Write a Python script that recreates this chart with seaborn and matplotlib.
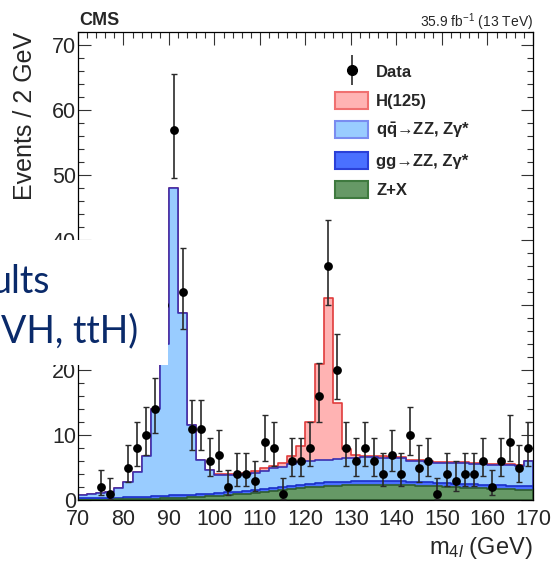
import numpy as np
import pandas as pd
import matplotlib
matplotlib.use("Agg")
import matplotlib.pyplot as plt
import seaborn as sns
from matplotlib.patches import Patch, Rectangle
from matplotlib.lines import Line2D
from matplotlib.ticker import MultipleLocator
from matplotlib.font_manager import FontProperties

# ---------------- data (2 GeV bins, 70-170 GeV) ----------------
bin_edges = list(range(70, 172, 2))
bin_centers = list(range(71, 170, 2))

data_counts = [0, 0, 2, 1, 0, 5, 8, 10, 14, 30,
               57, 32, 11, 11, 6, 7, 2, 4, 4, 3,
               9, 8, 1, 6, 6, 8, 16, 36, 20, 8,
               6, 8, 6, 4, 7, 4, 10, 5, 6, 1,
               4, 3, 4, 4, 6, 2, 6, 9, 5, 8]

zx = [0.05, 0.05, 0.05, 0.06, 0.08, 0.10, 0.12, 0.15, 0.20, 0.25,
      0.30, 0.35, 0.42, 0.50, 0.58, 0.66, 0.75, 0.85, 0.95, 1.05,
      1.20, 1.35, 1.50, 1.65, 1.80, 1.95, 2.05, 2.15, 2.20, 2.25,
      2.30, 2.30, 2.30, 2.30, 2.30, 2.30, 2.25, 2.20, 2.15, 2.10,
      2.00, 1.95, 1.90, 1.85, 1.80, 1.75, 1.70, 1.65, 1.60, 1.60]

gg = [0.30, 0.30, 0.30, 0.30, 0.30, 0.35, 0.35, 0.35, 0.35, 0.35,
      0.40, 0.40, 0.40, 0.40, 0.40, 0.45, 0.45, 0.45, 0.45, 0.45,
      0.50, 0.50, 0.50, 0.50, 0.50, 0.55, 0.55, 0.55, 0.55, 0.55,
      0.55, 0.55, 0.55, 0.55, 0.55, 0.55, 0.55, 0.55, 0.55, 0.55,
      0.55, 0.55, 0.55, 0.55, 0.55, 0.55, 0.55, 0.55, 0.55, 0.55]

qq = [0.45, 0.55, 0.75, 0.84, 1.52, 2.25, 3.83, 6.30, 13.45, 23.40,
      47.30, 27.95, 10.78, 5.30, 3.62, 2.74, 2.60, 2.55, 2.55, 2.70,
      2.80, 3.00, 3.15, 3.35, 3.50, 3.50, 3.50, 3.50, 3.55, 3.60,
      3.65, 3.70, 3.70, 3.65, 3.65, 3.55, 3.25, 3.20, 3.15, 3.10,
      3.15, 3.20, 3.20, 3.20, 3.25, 3.15, 3.15, 3.15, 3.15, 3.80]

higgs = [0.01, 0.01, 0.01, 0.01, 0.01, 0.01, 0.01, 0.01, 0.01, 0.01,
         0.01, 0.01, 0.01, 0.01, 0.05, 0.10, 0.15, 0.20, 0.25, 0.30,
         0.35, 0.45, 0.60, 1.20, 2.50, 6.00, 14.90, 24.90, 8.60, 1.40,
         0.40, 0.25, 0.20, 0.20, 0.15, 0.15, 0.15, 0.15, 0.15, 0.15,
         0.15, 0.15, 0.15, 0.15, 0.15, 0.12, 0.12, 0.12, 0.10, 0.10]

legend_labels = ["Data", "H(125)", r"q$\mathbf{\bar{q}}$→ZZ, Zγ*", "gg→ZZ, Zγ*", "Z+X"]

# ---------------- style ----------------
sns.set_theme(style="ticks")
plt.rcParams["font.family"] = ["Liberation Sans", "DejaVu Sans"]
plt.rcParams["mathtext.fontset"] = "custom"
plt.rcParams["mathtext.rm"] = "Liberation Sans"
plt.rcParams["mathtext.it"] = "Liberation Sans:italic"
plt.rcParams["mathtext.bf"] = "Liberation Sans:bold"

col_h_fill, col_h_edge = "#ffb3b3", "#e03c3c"
col_qq_fill, col_qq_edge = "#99ccff", "#3a2fb0"
col_gg_fill, col_gg_edge = "#4a70ff", "#1a2fc8"
col_zx_fill, col_zx_edge = "#669966", "#2f5f2f"

fig = plt.figure(figsize=(5.51, 5.64), dpi=100)
fig.patch.set_facecolor("white")
ax = fig.add_axes([78 / 551, 64 / 564, 455 / 551, 468 / 564])

# stacked histogram (THStack-like: cumulative layers drawn top to bottom)
zx_a, gg_a, qq_a, h_a = map(np.asarray, (zx, gg, qq, higgs))
layers = [
    (zx_a + gg_a + qq_a + h_a, col_h_fill, col_h_edge),
    (zx_a + gg_a + qq_a, col_qq_fill, col_qq_edge),
    (zx_a + gg_a, col_gg_fill, col_gg_edge),
    (zx_a, col_zx_fill, col_zx_edge),
]
for heights, fc, ec in layers:
    df = pd.DataFrame({"m4l": bin_centers, "w": heights})
    sns.histplot(data=df, x="m4l", weights="w", bins=bin_edges, element="step",
                 fill=True, alpha=1, facecolor=fc, edgecolor=ec, linewidth=1.2,
                 ax=ax)

# data points with Poisson (Gehrels approx.) error bars
dc = np.asarray(data_counts, dtype=float)
xc = np.asarray(bin_centers, dtype=float)
mask = dc > 0
n = dc[mask]
upper = n + np.sqrt(n + 0.75) + 1.0
lower = n * (1 - 1 / (9 * n) - 1 / (3 * np.sqrt(n))) ** 3
ax.errorbar(xc[mask], n, yerr=[n - lower, upper - n], fmt="none",
            ecolor="#2a2a2a", elinewidth=1.2, capsize=2.2, capthick=1.0, zorder=4)
sns.scatterplot(x=xc[mask], y=n, color="black", s=40, edgecolor="black",
                linewidth=0, zorder=5, ax=ax, legend=False)

# axes
ax.set_xlim(70, 170)
ax.set_ylim(0, 72)
ax.xaxis.set_major_locator(MultipleLocator(10))
ax.xaxis.set_minor_locator(MultipleLocator(2))
ax.yaxis.set_major_locator(MultipleLocator(10))
ax.yaxis.set_minor_locator(MultipleLocator(2))
ax.tick_params(which="both", direction="in", top=True, right=True,
               color="#333333", width=0.8)
ax.tick_params(which="major", length=9)
ax.tick_params(which="minor", length=4.5)
ax.tick_params(axis="x", which="major", pad=6.5, labelsize=15.5)
ax.tick_params(axis="y", which="major", pad=1.5, labelsize=15.5)
for s in ax.spines.values():
    s.set_linewidth(0.9)
    s.set_color("black")

ax.set_ylabel("Events / 2 GeV", fontsize=18, loc="top")
ax.yaxis.set_label_coords(-0.090, 1.0)
ax.set_xlabel(r"m$_{4l}$ (GeV)", fontsize=17, loc="right")
ax.xaxis.set_label_coords(1.0, -0.075)
ax.xaxis.label.set_horizontalalignment("right")

# texts above the frame
fig.text(79 / 551, 1 - 25 / 564, "CMS", fontsize=13, fontweight="bold",
         ha="left", va="baseline")
fig.text(533 / 551, 1 - 27 / 564, r"35.9 fb$^{-1}$ (13 TeV)",
         fontsize=10, ha="right", va="baseline")

# legend
data_handle = (Line2D([], [], marker="|", markersize=22, markeredgewidth=1.2,
                      color="#2a2a2a", linestyle="none"),
               Line2D([], [], marker="o", markersize=7, color="black",
                      linestyle="none"))
handles = [data_handle,
           Patch(facecolor=col_h_fill, edgecolor="#f07070", linewidth=1.5),
           Patch(facecolor=col_qq_fill, edgecolor="#7a8cf0", linewidth=1.5),
           Patch(facecolor=col_gg_fill, edgecolor="#2a40d8", linewidth=1.5),
           Patch(facecolor=col_zx_fill, edgecolor="#3f7a3f", linewidth=1.5)]
ax.legend(handles, legend_labels, loc="upper left",
          bbox_to_anchor=(335 / 551, 1 - 63 / 564), bbox_transform=fig.transFigure,
          frameon=False,
          prop=FontProperties(family="Liberation Sans", weight="bold", size=12),
          handlelength=2.0, handleheight=1.2, labelspacing=0.70, handletextpad=0.48,
          borderpad=0, borderaxespad=0)

# overlapping slide text box
fig.add_artist(Rectangle((0, 1 - 365 / 564), 168 / 551, 125 / 564,
                         transform=fig.transFigure, facecolor="white",
                         edgecolor="none", zorder=10))
fig.text(50 / 551, 1 - 293 / 564, "ults", fontsize=27, family="Lato",
         color="#0a2a6a", ha="right", va="baseline", zorder=11)
fig.text(138 / 551, 1 - 342 / 564, "VH, ttH)", fontsize=27, family="Lato",
         color="#0a2a6a", ha="right", va="baseline", zorder=11)

fig.savefig("out.png", dpi=100, facecolor="white")
